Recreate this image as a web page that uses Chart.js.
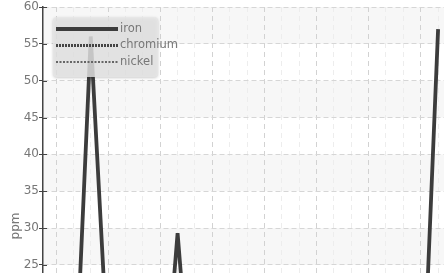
<!DOCTYPE html>
<html>
<head>
<meta charset="utf-8">
<script src="https://cdn.jsdelivr.net/npm/chart.js@4.4.1/dist/chart.umd.min.js"></script>
<style>
html,body{margin:0;padding:0;background:#fff;overflow:hidden;}
#wrap{width:444px;height:273px;position:relative;}
</style>
</head>
<body>
<div id="wrap"><canvas id="c" width="444" height="273"></canvas></div>
<script>
// ---- data ----
const sampleIndex    = [0,1,2,3,4,5,6,7,8,9,10,11,12,13,14,15,16,17,18,19,20,21,22];
const ironValues     = [2,3,56,12,5,3,0,29.3,0,4,6,3,5,2,7,4,3,6,2,5,3,0,57];
const chromiumValues = [1.5,2,8,3,1,1,0.5,5,0.5,1,2,1,1.5,1,2,1,1,2,1,1.5,1,0.5,9];
const nickelValues   = [3,4,12,5,3,2,1,8,1,2,3,2,3,2,4,2,2,3,2,3,2,1,14];
const seriesLabels   = ['iron','chromium','nickel'];
const yAxisTitle     = 'ppm';
const yMin = 23.9, yMax = 60, yStep = 5;
const xMin = -0.75, xMax = 22.34;

const FONT = "'DejaVu Sans', sans-serif";
const TEXT = '#777';

function pts(vals){ return sampleIndex.map((x,i)=>({x:x, y:vals[i]})); }

const bandsPlugin = {
  id:'bands',
  beforeDraw(chart){
    const {ctx, chartArea:a, scales:{y}} = chart;
    ctx.save();
    ctx.fillStyle = '#f7f7f7';
    for (let v = 25; v < yMax; v += 2*yStep) {
      const top = y.getPixelForValue(Math.min(v+yStep, yMax));
      const bot = y.getPixelForValue(v);
      ctx.fillRect(a.left, top, a.right-a.left, bot-top);
    }
    ctx.restore();
  },
  afterDraw(chart){
    const {ctx, chartArea:a, scales:{y}} = chart;
    ctx.save();
    ctx.strokeStyle = '#444'; ctx.lineWidth = 1;
    y.ticks.forEach(t=>{
      const p = Math.round(y.getPixelForValue(t.value))+0.5;
      ctx.beginPath(); ctx.moveTo(a.left, p); ctx.lineTo(a.left+4, p); ctx.stroke();
    });
    // axis title
    ctx.translate(16, 226);
    ctx.rotate(-Math.PI/2);
    ctx.fillStyle = TEXT;
    ctx.font = '12px ' + FONT;
    ctx.textAlign = 'center'; ctx.textBaseline = 'middle';
    ctx.fillText(yAxisTitle, 0, 0);
    ctx.restore();
  }
};

const legendPlugin = {
  id:'boxLegend',
  afterDatasetsDraw(chart){
    const {ctx, chartArea:a} = chart;
    const x0 = a.left + 10, y0 = a.top + 10, w = 105, h = 60;
    ctx.save();
    ctx.shadowColor = 'rgba(0,0,0,0.25)';
    ctx.shadowBlur = 3; ctx.shadowOffsetY = 1;
    ctx.fillStyle = 'rgba(230,230,230,0.82)';
    ctx.beginPath();
    ctx.roundRect(x0, y0, w, h, 4);
    ctx.fill();
    ctx.restore();
    ctx.save();
    chart.data.datasets.forEach((ds, i)=>{
      const yy = y0 + 12 + i*16.5;
      ctx.strokeStyle = ds.borderColor;
      ctx.lineWidth = ds.borderWidth;
      ctx.setLineDash(ds.borderDash || []);
      ctx.beginPath(); ctx.moveTo(x0+3, yy); ctx.lineTo(x0+65, yy); ctx.stroke();
      ctx.setLineDash([]);
      ctx.fillStyle = TEXT;
      ctx.font = '11.5px ' + FONT;
      ctx.textAlign = 'left'; ctx.textBaseline = 'middle';
      ctx.fillText(ds.label, x0+67, yy);
    });
    ctx.restore();
  }
};

new Chart(document.getElementById('c'), {
  type:'line',
  data:{
    datasets:[
      {label:seriesLabels[0], data:pts(ironValues), borderColor:'#3c3c3c', borderWidth:3.8, borderDash:[], pointRadius:0, tension:0},
      {label:seriesLabels[1], data:pts(chromiumValues), borderColor:'#444', borderWidth:3, borderDash:[2,1], pointRadius:0, tension:0},
      {label:seriesLabels[2], data:pts(nickelValues), borderColor:'#666', borderWidth:2, borderDash:[2,1.5], pointRadius:0, tension:0}
    ]
  },
  options:{
    responsive:false, animation:false, devicePixelRatio:1,
    layout:{padding:{top:7,left:0,right:0,bottom:0}},
    plugins:{legend:{display:false}, tooltip:{enabled:false}},
    scales:{
      x:{
        type:'linear', min:xMin, max:xMax, display:true,
        ticks:{display:false, stepSize:1, includeBounds:false},
        border:{display:false, dash:[5,4]},
        grid:{drawTicks:false, lineWidth:1,
          color:(c)=> (c.tick && Math.round(c.tick.value)%3===0) ? '#d2d2d2' : '#ededed'},
        afterFit(s){ s.height = 0; s.paddingLeft = 0; s.paddingRight = 0; }
      },
      y:{
        min:yMin, max:yMax,
        ticks:{stepSize:yStep, includeBounds:false, padding:0, color:TEXT, font:{family:FONT, size:12}},
        border:{display:true, color:'#444', width:1.5, dash:[5,3]},
        grid:{color:'#d6d6d6', lineWidth:1, tickColor:'#444', tickLength:4, tickBorderDash:[]},
        afterFit(s){ s.width = 43; s.paddingTop = 0; s.paddingBottom = 0; }
      }
    }
  },
  plugins:[bandsPlugin, legendPlugin]
});
</script>
</body>
</html>
